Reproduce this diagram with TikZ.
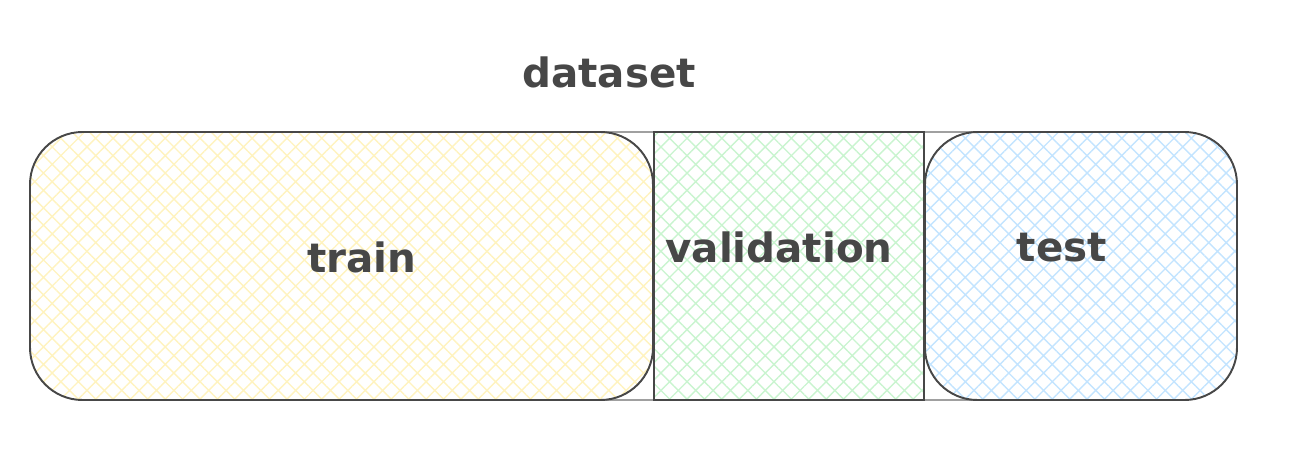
\documentclass[tikz,border=0pt]{standalone}
\usepackage{fontspec}
\setmainfont{DejaVu Sans}
\usetikzlibrary{patterns.meta}
\definecolor{strokegray}{HTML}{474747}
\definecolor{lightstroke}{HTML}{A0A0A0}
\definecolor{trainyellow}{HTML}{FFF3BF}
\definecolor{valgreen}{HTML}{C9F4CF}
\definecolor{testblue}{HTML}{C3E4FF}
\tikzset{
  part/.style={draw=strokegray, line width=1.1pt},
  hatch/.style={pattern={Hatch[angle=45,distance=7pt,line width=0.8pt]}, pattern color=#1},
  partlabel/.style={text=strokegray, font=\fontsize{23}{27}\selectfont\bfseries}
}
\begin{document}
\begin{tikzpicture}[x=0.02cm, y=-0.02cm]
	\useasboundingbox (0,0) rectangle (1296,460);

	\draw[lightstroke, line width=0.8pt] (600,132) -- (980,132);
	\draw[lightstroke, line width=0.8pt] (600,400) -- (980,400);

	\fill[hatch=valgreen] (654,132) rectangle (924,400);
	\draw[part, line width=0.8pt] (654,132) rectangle (924,400);

	\draw[part, hatch=trainyellow, rounded corners=1.05cm] (30,132) rectangle (653,400);
	\draw[part, hatch=testblue, rounded corners=1.05cm] (925,132) rectangle (1237,400);

	\node[partlabel] (dataset) at (609,72) {dataset};
	\node[partlabel] (train) at (362,257) {train};
	\node[partlabel] (validation) at (779,247) {validation};
	\node[partlabel] (test) at (1062,248) {test};
\end{tikzpicture}
\end{document}
